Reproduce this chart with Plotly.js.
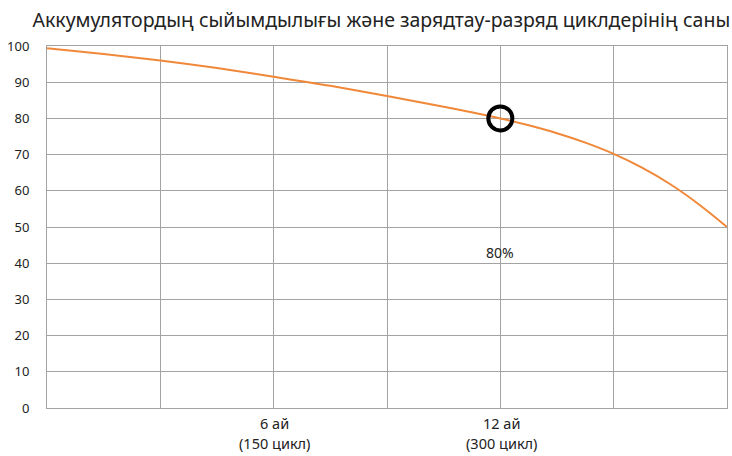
<!DOCTYPE html>
<html>
<head>
<meta charset="utf-8">
<script src="https://cdn.plot.ly/plotly-3.0.1.min.js"></script>
<style>html,body{margin:0;padding:0;background:#fff;}#chart{width:732px;height:456px;}</style>
</head>
<body>
<div id="chart"></div>
<script>
const chartTitle = "Аккумулятордың сыйымдылығы және зарядтау-разряд циклдерінің саны";
const cycles = [0, 37.5, 75, 112.5, 150, 187.5, 225, 262.5, 300, 318.75, 337.5, 356.25, 375, 393.75, 412.5, 431.25, 450];
const capacity = [99.4, 97.8, 96.0, 93.9, 91.5, 89.0, 86.2, 83.2, 80, 78.1, 75.9, 73.3, 70.2, 66.4, 61.8, 56.3, 50];
const gridCycles = [0, 75, 150, 225, 300, 375, 450];
const labelCycles = [150, 300];
const labelMonths = ["6 ай", "12 ай"];
const labelCycleText = ["(150 цикл)", "(300 цикл)"];
const markCycle = [300];
const markValue = [80];
const markText = "80%";
const markTextY = 43;
const yTicks = [0, 10, 20, 30, 40, 50, 60, 70, 80, 90, 100];

const font = "Noto Sans, Open Sans, sans-serif";
const gridColor = "#a3a3a3";

const annotations = [];
labelCycles.forEach((c, i) => {
  annotations.push({x: c, xref: 'x', y: 0, yref: 'paper', yanchor: 'middle', yshift: -15, xshift: 1,
    text: labelMonths[i], showarrow: false, font: {family: font, size: 14.5, color: '#222'}});
  annotations.push({x: c, xref: 'x', y: 0, yref: 'paper', yanchor: 'middle', yshift: -35, xshift: 1,
    text: labelCycleText[i], showarrow: false, font: {family: font, size: 14.5, color: '#222'}});
});
annotations.push({x: markCycle[0], xref: 'x', y: markTextY, yref: 'y', text: markText,
  showarrow: false, font: {family: font, size: 14, color: '#222'}});

const data = [
  {x: cycles, y: capacity, type: 'scatter', mode: 'lines',
   line: {color: '#f0883a', width: 2, shape: 'spline', smoothing: 1}, hoverinfo: 'skip'},
  {x: markCycle, y: markValue, type: 'scatter', mode: 'markers',
   marker: {symbol: 'circle', size: 24, color: 'rgba(0,0,0,0)', line: {color: '#000', width: 4}}}
];

const layout = {
  width: 732, height: 456,
  margin: {l: 47, r: 5, t: 46, b: 48},
  paper_bgcolor: '#fff', plot_bgcolor: '#fff',
  showlegend: false,
  title: {text: chartTitle, x: 0.521, xanchor: 'center', y: 0.955, yanchor: 'middle',
          font: {family: font, size: 19.5, color: '#222'}},
  xaxis: {range: [0, 450], tickvals: gridCycles, showticklabels: false,
          showgrid: true, gridcolor: gridColor, gridwidth: 1, zeroline: false,
          showline: true, linecolor: gridColor, linewidth: 1, mirror: true, ticks: ''},
  yaxis: {range: [0, 100], tickvals: yTicks, showgrid: true, gridcolor: gridColor, gridwidth: 1,
          zeroline: false, showline: true, linecolor: gridColor, linewidth: 1, mirror: true,
          ticks: 'outside', ticklen: 14, tickcolor: 'rgba(0,0,0,0)',
          tickfont: {family: font, size: 13, color: '#222'}},
  annotations: annotations
};

Plotly.newPlot('chart', data, layout, {displayModeBar: false, staticPlot: true});
</script>
</body>
</html>
